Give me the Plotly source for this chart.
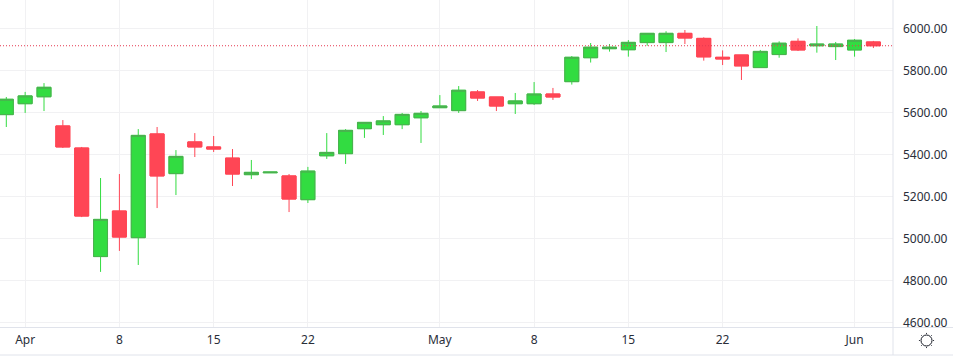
import plotly.graph_objects as go

dates = ["2025-03-31","2025-04-01","2025-04-02","2025-04-03","2025-04-04","2025-04-07","2025-04-08","2025-04-09","2025-04-10","2025-04-11",
         "2025-04-14","2025-04-15","2025-04-16","2025-04-17","2025-04-18","2025-04-21","2025-04-22","2025-04-23","2025-04-24","2025-04-25",
         "2025-04-28","2025-04-29","2025-04-30","2025-05-01","2025-05-02","2025-05-05","2025-05-06","2025-05-07","2025-05-08","2025-05-09",
         "2025-05-12","2025-05-13","2025-05-14","2025-05-15","2025-05-16","2025-05-19","2025-05-20","2025-05-21","2025-05-22","2025-05-23",
         "2025-05-26","2025-05-27","2025-05-28","2025-05-29","2025-05-30","2025-06-02","2025-06-03"]
open_ = [5589,5641,5674,5535,5430,4913,5130,5003,5497,5308,5459,5435,5382,5303,5312,5297,5184,5393,5403,5522,
         5541,5541,5574,5622,5608,5697,5673,5641,5641,5687,5746,5860,5903,5898,5932,5932,5976,5952,5862,5873,
         5813,5875,5938,5917,5913,5897,5935]
high = [5673,5697,5739,5563,5435,5287,5306,5520,5530,5420,5501,5487,5425,5373,5315,5306,5340,5501,5520,5552,
        5582,5597,5606,5682,5725,5706,5673,5692,5744,5716,5868,5930,5925,5944,5976,5986,5992,5957,5895,5873,
        5897,5938,5952,6011,5935,5949,5940]
low = [5530,5597,5606,5430,5101,4840,4940,4873,5144,5206,5387,5411,5249,5282,5312,5125,5168,5378,5354,5478,
       5492,5520,5454,5622,5597,5654,5606,5592,5635,5659,5732,5837,5889,5865,5917,5887,5925,5846,5825,5754,
       5813,5860,5892,5884,5849,5865,5906]
close = [5662,5678,5719,5435,5106,5090,5006,5490,5297,5390,5435,5425,5306,5314,5315,5187,5320,5409,5514,5552,
         5559,5590,5595,5630,5705,5668,5630,5654,5687,5673,5862,5910,5910,5933,5976,5976,5954,5864,5854,5821,
         5890,5929,5897,5925,5925,5943,5917]
tick_dates = ["2025-04-01","2025-04-08","2025-04-15","2025-04-22","2025-05-01","2025-05-08","2025-05-15","2025-05-22","2025-06-02"]
tick_labels = ["Apr","8","15","22","May","8","15","22","Jun"]
y_ticks = [4600,4800,5000,5200,5400,5600,5800,6000]

GREEN, GREEN_EDGE, RED = "#32DC41", "#4CAF50", "#FF4655"
GRID, BORDER, TEXT = "#F1F1F3", "#E0E3EB", "#2A2E39"
FONT = "Noto Sans"
W, H, PW, PH = 953, 357, 893, 327

fig = go.Figure()
# wicks
fig.add_trace(go.Candlestick(x=dates, open=open_, high=high, low=low, close=close,
    increasing=dict(line=dict(color=GREEN, width=1), fillcolor=GREEN),
    decreasing=dict(line=dict(color=RED, width=1), fillcolor=RED),
    whiskerwidth=0, showlegend=False))
# bodies with their edge
body_hi = [max(a, b) for a, b in zip(open_, close)]
body_lo = [min(a, b) for a, b in zip(open_, close)]
fig.add_trace(go.Candlestick(x=dates, open=open_, high=body_hi, low=body_lo, close=close,
    increasing=dict(line=dict(color=GREEN_EDGE, width=1), fillcolor=GREEN),
    decreasing=dict(line=dict(color=RED, width=1), fillcolor=RED),
    whiskerwidth=0, showlegend=False))

def px(x): return x / PW
def py(y): return 1 - y / PH

shapes = [
    dict(type="line", xref="paper", yref="y", x0=0, x1=1, y0=close[-1], y1=close[-1],
         line=dict(color="#E53950", width=1, dash="1px,2px")),
    dict(type="line", xref="paper", yref="paper", x0=px(PW), x1=px(PW), y0=py(0), y1=py(355),
         line=dict(color=BORDER, width=1)),
    dict(type="line", xref="paper", yref="paper", x0=0, x1=px(W), y0=py(355), y1=py(355),
         line=dict(color=BORDER, width=1)),
    dict(type="line", xref="paper", yref="paper", x0=0, x1=px(W), y0=py(327.5), y1=py(327.5),
         line=dict(color=BORDER, width=1)),
    dict(type="circle", xref="paper", yref="paper", x0=px(921), x1=px(932), y0=py(346), y1=py(335),
         line=dict(color="#131722", width=1)),
]
cx, cy = 926.5, 340.5
for dx, dy in [(0,-7),(0,7),(-7,0),(7,0),(-5,-5),(5,-5),(-5,5),(5,5)]:
    shapes.append(dict(type="line", xref="paper", yref="paper",
                       x0=px(cx+dx*0.95), x1=px(cx+dx*1.08), y0=py(cy+dy*0.95), y1=py(cy+dy*1.08),
                       line=dict(color="#131722", width=1)))

fig.update_layout(
    width=W, height=H, margin=dict(l=0, r=W-PW, t=0, b=H-PH),
    paper_bgcolor="white", plot_bgcolor="white", boxgap=0.26, boxgroupgap=0, boxmode="overlay",
    font=dict(family=FONT, size=12, color=TEXT), showlegend=False, shapes=shapes,
    xaxis=dict(type="category", categoryorder="array", categoryarray=dates,
               range=[-0.334, 47.04], rangeslider=dict(visible=False),
               tickmode="array", tickvals=tick_dates, ticktext=tick_labels,
               showgrid=True, gridcolor=GRID, gridwidth=1, ticks="", zeroline=False,
               ticklabelstandoff=4, tickangle=0, showline=False),
    yaxis=dict(side="right", range=[4577.6, 6134.8], tickmode="array", tickvals=y_ticks,
               tickformat=".2f", showgrid=True, gridcolor=GRID, gridwidth=1,
               ticks="", zeroline=False, ticklabelstandoff=9, showline=False),
)
fig.write_html("out.html", config=dict(displayModeBar=False),
               post_script="document.body.style.margin='0';document.body.style.overflow='hidden';"
                           "document.querySelectorAll('.boxlayer path, .trace.boxes path').forEach(function(p){p.style.strokeLinejoin='miter';p.style.strokeLinecap='butt';});")
